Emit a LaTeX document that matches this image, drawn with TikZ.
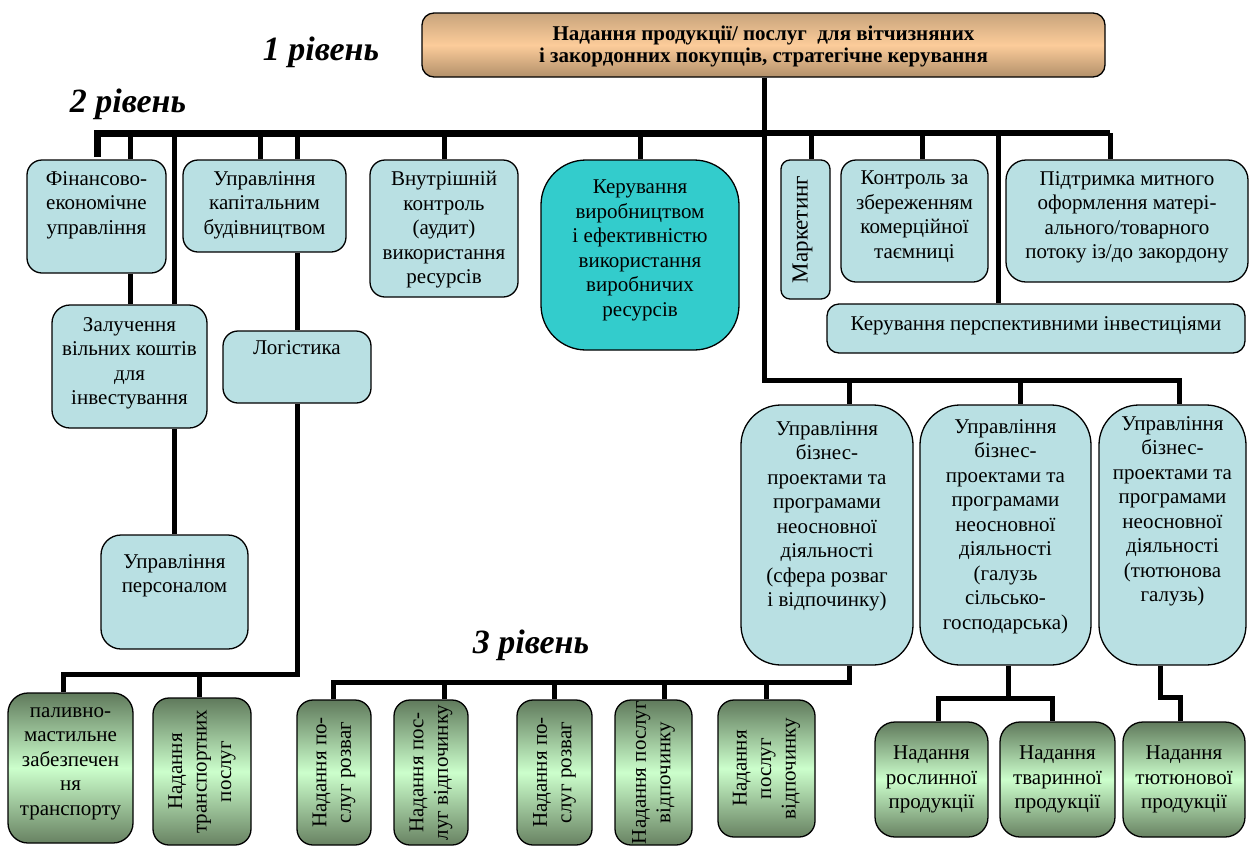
\documentclass[tikz,border=0pt]{standalone}
\usepackage{fontspec}
\setmainfont{Liberation Serif}
\usetikzlibrary{fit}
\definecolor{lblue}{RGB}{185,224,227}
\definecolor{tealc}{RGB}{51,204,204}
\definecolor{ttop}{RGB}{200,164,124}
\definecolor{tmid}{RGB}{252,204,154}
\definecolor{tbot}{RGB}{178,144,106}
\definecolor{gtop}{RGB}{96,122,92}
\definecolor{gmid}{RGB}{204,255,204}
\definecolor{gbot}{RGB}{104,130,98}
\begin{document}
\begin{tikzpicture}[x=1pt,y=-1pt,
  box/.style={draw=black, line width=1.3pt, inner sep=0pt, rounded corners=#1},
  box/.default=15pt,
  bluebox/.style={box=#1, fill=lblue},
  bluebox/.default=15pt,
  greenbox/.style={box=#1, top color=gtop, bottom color=gbot, middle color=gmid},
  greenbox/.default=16pt,
  txt/.style={font=\fontsize{21}{24.5}\selectfont, align=center, inner sep=0pt},
  lvl/.style={font=\fontsize{34}{40}\selectfont\bfseries\itshape, inner sep=0pt},
  conn/.style={line width=5pt},
  mainbus/.style={line width=7pt}
]
\useasboundingbox (0,0) rectangle (1251,847);

% ---------- level 1 ----------
\node[box=12pt, top color=ttop, bottom color=tbot, middle color=tmid, fit={(422,13) (1105,77)}] (top) {};
\node[inner sep=0pt, align=center, font=\fontsize{21}{22}\selectfont\bfseries] (top-t) at ([yshift=-1pt]top.center) {Надання продукції/ послуг\ \ для вітчизняних\\і закордонних покупців, стратегічне керування};

\node[lvl] (l1) at (321,52) {1 рівень};
\node[lvl] (l2) at (128,104) {2 рівень};
\node[lvl] (l3) at (531,645) {3 рівень};

% ---------- level 2 boxes ----------
\node[bluebox, fit={(27,160) (166,273)}] (fin) {};
\node[txt, anchor=north] (fin-t) at (96.5,171) {Фінансово-\\економічне\\управління};

\node[bluebox, fit={(183,160) (346,252)}] (uk) {};
\node[txt, anchor=north] (uk-t) at (264.5,171) {Управління\\капітальним\\будівництвом};

\node[bluebox, fit={(370,160) (518,297)}] (vn) {};
\node[txt, anchor=north] (vn-t) at (444,171) {Внутрішній\\контроль\\(аудит)\\використання\\ресурсів};

\node[box=45pt, fill=tealc, fit={(541,160) (739,350)}] (teal) {};
\node[txt, anchor=north] (teal-t) at (640,180) {Керування\\виробництвом\\і ефективністю\\використання\\виробничих\\ресурсів};

\node[bluebox=9pt, fit={(781,160) (830,299)}] (mk) {};
\node[txt, rotate=90, font=\fontsize{23}{26}\selectfont] (mk-t) at ([xshift=-3pt]mk.center) {Маркетинг};

\node[bluebox, fit={(841,160) (988,282)}] (ko) {};
\node[txt, anchor=north] (ko-t) at (914.5,171) {Контроль за\\збереженням\\комерційної\\таємниці};

\node[bluebox=20pt, fit={(1006,160) (1248,282)}] (pid) {};
\node[txt, anchor=north] (pid-t) at (1127,171) {Підтримка митного\\оформлення матері-\\ального/товарного\\потоку із/до закордону};

\node[bluebox=12pt, fit={(827,304) (1245,353)}] (kp) {};
\node[txt] (kp-t) at (1036,326) {Керування перспективними інвестиціями};

\node[bluebox=18pt, fit={(52,305) (207,428)}] (zal) {};
\node[txt, anchor=north] (zal-t) at (129.5,317) {Залучення\\вільних коштів\\для\\інвестування};

\node[bluebox, fit={(223,331) (371,403)}] (log) {};
\node[txt, anchor=north] (log-t) at (297,340) {Логістика};

\node[bluebox=20pt, fit={(101,535) (248,649)}] (per) {};
\node[txt, anchor=north] (per-t) at (174.5,554) {Управління\\персоналом};

\node[bluebox=40pt, fit={(741,405) (913,665)}] (biz1) {};
\node[txt, anchor=north] (biz1-t) at (827,421) {Управління\\бізнес-\\проектами та\\програмами\\неосновної\\діяльності\\(сфера розваг\\і відпочинку)};

\node[bluebox=40pt, fit={(920,405) (1091,665)}] (biz2) {};
\node[txt, anchor=north] (biz2-t) at (1005.5,419) {Управління\\бізнес-\\проектами та\\програмами\\неосновної\\діяльності\\(галузь\\сільсько-\\господарська)};

\node[bluebox=40pt, fit={(1099,405) (1246,665)}] (biz3) {};
\node[txt, anchor=north] (biz3-t) at (1172.5,416) {Управління\\бізнес-\\проектами та\\програмами\\неосновної\\діяльності\\(тютюнова\\галузь)};

% ---------- level 3 boxes ----------
\node[greenbox=20pt, fit={(8,693) (133,843)}] (pal) {};
\node[txt, anchor=north] (pal-t) at (70.5,707) {паливно-\\мастильне\\забезпечен\\ня\\транспорту};

\node[greenbox, fit={(153,698) (251,845)}] (tr) {};
\node[txt, rotate=90] (tr-t) at (tr.center) {Надання\\транспортних\\послуг};

\node[greenbox, fit={(297,700) (371,845)}] (g1) {};
\node[txt, rotate=90] (g1-t) at (g1.center) {Надання по-\\слуг розваг};

\node[greenbox, fit={(394,700) (468,845)}] (g2) {};
\node[txt, rotate=90] (g2-t) at (g2.center) {Надання пос-\\луг відпочинку};

\node[greenbox, fit={(517,700) (592,845)}] (g3) {};
\node[txt, rotate=90] (g3-t) at (g3.center) {Надання по-\\слуг розваг};

\node[greenbox, fit={(615,700) (692,845)}] (g4) {};
\node[txt, rotate=90] (g4-t) at (g4.center) {Надання послуг\\відпочинку};

\node[greenbox, fit={(718,700) (815,837)}] (g5) {};
\node[txt, rotate=90] (g5-t) at (g5.center) {Надання\\послуг\\відпочинку};

\node[greenbox=20pt, fit={(875,722) (988,837)}] (ro) {};
\node[txt] (ro-t) at (ro.center) {Надання\\рослинної\\продукції};

\node[greenbox=20pt, fit={(1000,722) (1115,837)}] (tv) {};
\node[txt] (tv-t) at (tv.center) {Надання\\тваринної\\продукції};

\node[greenbox=20pt, fit={(1123,722) (1245,837)}] (ty) {};
\node[txt] (ty-t) at (ty.center) {Надання\\тютюнової\\продукції};

% ---------- connectors ----------
\coordinate (aEnd) at (97,157);
\coordinate (bA) at (97,133);
\coordinate (bFin) at (130,133);
\coordinate (bZal) at (174,133);
\coordinate (bUk1) at (260,133);
\coordinate (bUk2) at (297,133);
\coordinate (bVn) at (444,133);
\coordinate (bTeal) at (640,133);
\coordinate (bStem) at (764,133);
\coordinate (bMk) at (811,133);
\coordinate (bKo) at (922,133);
\coordinate (bKp) at (998,133);
\coordinate (bPid) at (1110,133);

\draw[conn] (top.south -| bStem) -- (bStem);
\draw[mainbus] (aEnd) -- (bA) -- (bStem);
\draw[line width=6pt] (bStem) -- (bPid);
\draw[conn] (bPid) -- (bPid |- pid.north);
\draw[conn] (bFin) -- (bFin |- fin.north);
\draw[conn] (bZal) -- (bZal |- zal.north);
\draw[conn] (bUk1) -- (bUk1 |- uk.north);
\draw[conn] (bUk2) -- (bUk2 |- uk.north);
\draw[conn] (bVn) -- (bVn |- vn.north);
\draw[conn] (bTeal) -- (bTeal |- teal.north);
\draw[conn] (bMk) -- (bMk |- mk.north);
\draw[conn] (bKo) -- (bKo |- ko.north);
\draw[conn] (bKp) -- (bKp |- kp.north);

% inside level 2
\draw[conn] (fin.south -| bFin) -- (zal.north -| bFin);
\draw[conn] (zal.south -| bZal) -- (per.north -| bZal);
\draw[conn] (uk.south -| bUk2) -- (log.north -| bUk2);

% logistics branch
\coordinate (lgA) at (297,674);
\coordinate (lgL) at (63,674);
\coordinate (lgM) at (199,674);
\draw[conn] (log.south -| lgA) -- (lgA) -- (lgL) -- (lgL |- pal.north);
\draw[conn] (lgM) -- (lgM |- tr.north);

% right stem to business boxes
\coordinate (lowL) at (764,380);
\coordinate (lowA) at (849,380);
\coordinate (lowB) at (1020,380);
\coordinate (lowR) at (1179,380);
\draw[conn] (bStem) -- (lowL) -- (lowR) -- (lowR |- biz3.north);
\draw[conn] (lowA) -- (lowA |- biz1.north);
\draw[conn] (lowB) -- (lowB |- biz2.north);

% biz1 -> level 3 row
\coordinate (r3A) at (849,682);
\coordinate (r3L) at (333,682);
\coordinate (r3b) at (444,682);
\coordinate (r3c) at (554,682);
\coordinate (r3d) at (664,682);
\coordinate (r3e) at (766,682);
\draw[conn] (biz1.south -| r3A) -- (r3A) -- (r3L) -- (r3L |- g1.north);
\draw[conn] (r3b) -- (r3b |- g2.north);
\draw[conn] (r3c) -- (r3c |- g3.north);
\draw[conn] (r3d) -- (r3d |- g4.north);
\draw[conn] (r3e) -- (r3e |- g5.north);

% biz2 -> two boxes
\coordinate (s2) at (1008,698);
\coordinate (s2L) at (938,698);
\coordinate (s2R) at (1052,698);
\draw[conn] (biz2.south -| s2) -- (s2);
\draw[conn] (s2L |- ro.north) -- (s2L) -- (s2R) -- (s2R |- tv.north);

% biz3 -> tobacco
\coordinate (s3) at (1160,697);
\coordinate (s3R) at (1180,697);
\draw[conn] (biz3.south -| s3) -- (s3) -- (s3R) -- (s3R |- ty.north);
\end{tikzpicture}
\end{document}
